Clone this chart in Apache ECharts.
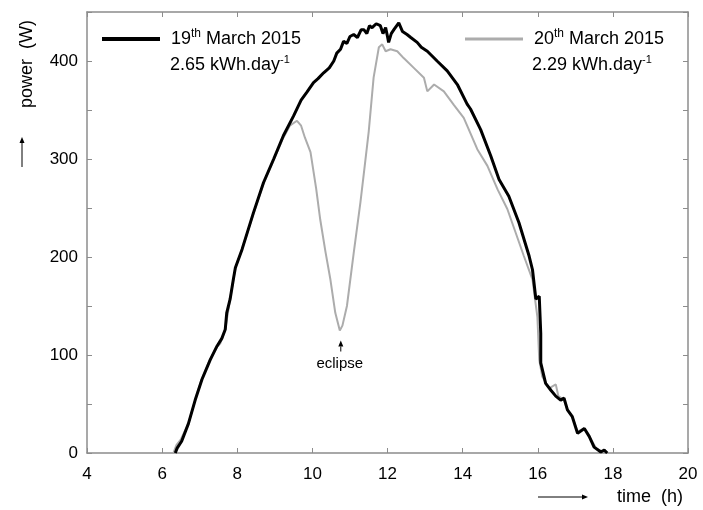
<!DOCTYPE html>
<html><head><meta charset="utf-8">
<script src="https://cdn.jsdelivr.net/npm/echarts@6/dist/echarts.min.js"></script>
<style>html,body{margin:0;padding:0;background:#fff}#c{width:703px;height:510px}</style>
</head><body><div id="c"></div>
<script>
// ---- data (time in hours, power in W) ----
const day19Time  = [6.35,6.40,6.52,6.70,6.88,7.06,7.28,7.46,7.59,7.68,7.72,7.81,7.90,7.95,8.13,8.43,8.70,8.97,9.23,9.50,9.70,9.85,10.03,10.15,10.30,10.45,10.57,10.65,10.75,10.83,10.92,11.00,11.10,11.20,11.30,11.37,11.45,11.52,11.59,11.70,11.81,11.88,11.95,12.00,12.03,12.10,12.17,12.30,12.40,12.52,12.62,12.79,12.90,13.06,13.32,13.59,13.86,14.12,14.21,14.48,14.75,14.97,15.23,15.50,15.77,15.86,15.95,16.04,16.08,16.08,16.21,16.35,16.48,16.61,16.70,16.79,16.92,17.06,17.24,17.37,17.50,17.68,17.77,17.85];
const day19Power = [0,5,12,30,54,75,95,109,117,126,143,157,178,189,208,245,276,300,324,344,360,368,378,382,388,393,400,408,412,420,418,425,427,424,432,432,428,436,434,438,436,428,434,425,419,428,432,439,430,427,424,419,414,410,400,390,376,356,351,330,303,279,262,235,201,187,157,160,122,92,71,64,58,54,56,44,37,20,25,17,6,1,3,0];
const day20Time  = [6.30,6.38,6.50,6.70,6.88,7.06,7.28,7.46,7.55,7.68,7.81,7.95,8.13,8.43,8.70,8.97,9.23,9.40,9.59,9.70,9.80,9.95,10.10,10.21,10.35,10.48,10.61,10.73,10.80,10.92,11.10,11.28,11.40,11.50,11.63,11.77,11.86,11.95,12.08,12.26,12.43,12.70,12.97,13.06,13.24,13.50,13.77,14.03,14.12,14.39,14.66,14.93,15.19,15.41,15.63,15.86,15.99,16.04,16.12,16.30,16.48,16.55,16.70,16.79,16.92,17.06,17.24,17.40,17.55,17.70,17.80];
const day20Power = [0,8,14,30,54,76,96,108,112,126,157,189,208,244,275,299,322,334,339,334,322,307,270,238,205,177,143,125,130,150,204,256,295,328,383,414,417,410,412,410,403,393,383,369,376,369,355,342,334,310,293,269,249,225,201,177,139,95,78,66,70,58,54,44,37,22,25,15,5,2,0];
const eclipsePoint = [10.73, 125];
const xRange = [4, 20], xStep = 2;
const yRange = [0, 450], yStep = 50, yLabelStep = 100;
const name19 = '19th March 2015', name20 = '20th March 2015';
const energy19 = '2.65 kWh.day', energy20 = '2.29 kWh.day';

const zip = (a, b) => a.map((v, i) => [v, b[i]]);
const FONT = 'Arial, "Liberation Sans", sans-serif';
const AX = '#8c8c8c';
const chart = echarts.init(document.getElementById('c'));

const baseX = {type:'value', min:xRange[0], max:xRange[1], interval:xStep,
  axisLine:{show:true, onZero:false, lineStyle:{color:AX, width:1.5}},
  axisTick:{show:true, inside:true, length:5, lineStyle:{color:AX}},
  splitLine:{show:false}};
const baseY = {type:'value', min:yRange[0], max:yRange[1], interval:yStep,
  axisLine:{show:true, onZero:false, lineStyle:{color:AX, width:1.5}},
  axisTick:{show:true, inside:true, length:5, lineStyle:{color:AX}},
  splitLine:{show:false}};

const rich = {
  g:{width:6},
  a:{fontSize:18, fontFamily:FONT, color:'#000', lineHeight:22},
  s:{fontSize:12, fontFamily:FONT, color:'#000', lineHeight:12, verticalAlign:'top'}
};
const legendFmt = n => '{g|}{a|' + n.slice(0,2) + '}{s|th}{a|' + n.slice(4) + '}';

chart.setOption({
  animation:false,
  backgroundColor:'#fff',
  grid:{left:87, right:15, top:12, bottom:57},
  xAxis:[
    Object.assign({}, baseX, {position:'bottom',
      axisLabel:{show:true, margin:13, fontSize:17, color:'#000', fontFamily:FONT}}),
    Object.assign({}, baseX, {position:'top', axisLabel:{show:false}})
  ],
  yAxis:[
    Object.assign({}, baseY, {position:'left',
      axisLabel:{show:true, margin:9, fontSize:17, color:'#000', fontFamily:FONT,
        formatter:v => (v % yLabelStep === 0 ? String(v) : '')}}),
    Object.assign({}, baseY, {position:'right', axisLabel:{show:false}})
  ],
  legend:[
    {data:[name19], left:97, top:23, icon:'rect', itemWidth:58, itemHeight:4,
     formatter:legendFmt, textStyle:{rich:rich}, selectedMode:false},
    {data:[name20], left:460, top:23, icon:'rect', itemWidth:58, itemHeight:3,
     formatter:legendFmt, textStyle:{rich:rich}, selectedMode:false}
  ],
  series:[
    {name:name20, type:'line', data:zip(day20Time, day20Power), showSymbol:false, symbol:'none',
     lineStyle:{color:'#acacac', width:2}, itemStyle:{color:'#acacac'}, z:2},
    {name:name19, type:'line', data:zip(day19Time, day19Power), showSymbol:false, symbol:'none',
     lineStyle:{color:'#000', width:3}, itemStyle:{color:'#000'}, z:3}
  ]
});

const ep = chart.convertToPixel({gridIndex:0}, eclipsePoint);
const energyRich = {
  a:{fontSize:18, fontFamily:FONT, color:'#000', lineHeight:22},
  s:{fontSize:11, fontFamily:FONT, color:'#000', lineHeight:12, verticalAlign:'top'}
};
function arrow(x1, y1, x2, y2) {
  const ang = Math.atan2(y2 - y1, x2 - x1), L = 6, W = 2.5;
  const bx = x2 - L*Math.cos(ang), by = y2 - L*Math.sin(ang);
  const px = -Math.sin(ang)*W, py = Math.cos(ang)*W;
  return [
    {type:'line', shape:{x1:x1, y1:y1, x2:bx, y2:by}, style:{stroke:'#000', lineWidth:1}},
    {type:'polygon', shape:{points:[[x2,y2],[bx+px,by+py],[bx-px,by-py]]}, style:{fill:'#000'}}
  ];
}
chart.setOption({graphic:[
  {type:'text', x:170, y:65, style:{rich:energyRich, text:'{a|' + energy19 + '}{s|-1}', textVerticalAlign:'middle'}},
  {type:'text', x:532, y:65, style:{rich:energyRich, text:'{a|' + energy20 + '}{s|-1}', textVerticalAlign:'middle'}},
  {type:'text', x:27, y:64, rotation:Math.PI/2,
   style:{text:'power  (W)', font:'18px ' + FONT, fill:'#000', textAlign:'center', textVerticalAlign:'middle'}},
  ...arrow(22, 167, 22, 137),
  {type:'text', x:617, y:497,
   style:{text:'time  (h)', font:'18px ' + FONT, fill:'#000', textAlign:'left', textVerticalAlign:'middle'}},
  ...arrow(538, 497, 588, 497),
  ...arrow(ep[0]+1, ep[1]+21, ep[0]+1, ep[1]+10),
  {type:'text', x:ep[0], y:ep[1]+33,
   style:{text:'eclipse', font:'15px ' + FONT, fill:'#000', textAlign:'center', textVerticalAlign:'middle'}}
]});
</script></body></html>
